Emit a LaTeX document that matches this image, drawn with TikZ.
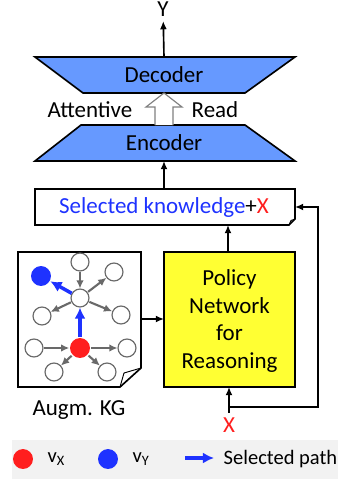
\documentclass[tikz,border=0pt]{standalone}
\usepackage{fontspec}
\setmainfont{Carlito}
\usetikzlibrary{arrows.meta}
\definecolor{trapblue}{RGB}{102,153,255}
\definecolor{polyellow}{RGB}{255,255,51}
\definecolor{selblue}{RGB}{30,50,255}
\definecolor{xred}{RGB}{255,30,30}
\definecolor{edgegray}{RGB}{105,105,105}
\definecolor{legendgray}{RGB}{242,242,242}
\tikzset{
  every node/.style={font=\fontsize{19.6}{23.5}\selectfont},
  kgnode/.style={circle, draw=edgegray, fill=white, line width=1pt, inner sep=0pt, minimum size=15.3pt},
  vxnode/.style={circle, fill=xred, inner sep=0pt, minimum size=17pt},
  vynode/.style={circle, fill=selblue, inner sep=0pt, minimum size=17pt},
  kgedge/.style={-{Latex[length=7pt,width=6.5pt]}, edgegray, line width=1.8pt, shorten <=0.5pt},
  pathedge/.style={-{Latex[length=9.5pt,width=9.5pt]}, selblue, line width=3pt},
  legendtext/.style={font=\fontsize{17.5}{21}\selectfont, anchor=west}
}
\begin{document}
\begin{tikzpicture}[x=0.03cm,y=-0.03cm,>={Latex[length=7pt,width=6pt]},line width=1.4pt]

\useasboundingbox (0,0) rectangle (338,479);

% legend band
\fill[legendgray] (12,440) rectangle (338,479);

% decoder and encoder
\draw[fill=trapblue] (35,57) -- (295,57) -- (245,93) -- (83,93) -- cycle;
\draw[fill=trapblue] (81,125) -- (245,125) -- (295,161) -- (35,161) -- cycle;
\node (dec) at (164,75) {Decoder};
\node (enc) at (164,143) {Encoder};
\coordinate (dectop) at (164,57);
\coordinate (encbot) at (164,161);

\node (y) at (163,9) {Y};
\draw[->] (dectop) -- (y);

% attentive read
\draw[gray, fill=white, line width=1pt] (155,125) -- (155,107) -- (146,107) -- (164,93)
  -- (182,107) -- (173,107) -- (173,125);
\node[anchor=east] (att) at (137,110) {Attentive};
\node[anchor=west] (read) at (187,110) {Read};

% selected knowledge
\draw[fill=white] (35,189) -- (295,189) -- (295,219) -- (289,225) -- (35,225) -- cycle;
\draw[line width=0.8pt] (295,219) -- (291,220.5) -- (289,225);
\node (sel) at (164,207) {\textcolor{selblue}{Selected knowledge}+\textcolor{xred}{X}};
\coordinate (seltop) at (164,189);
\coordinate (selbot) at (228,225);
\coordinate (selright) at (295,207);
\draw[->] (seltop) -- (encbot);

% policy network
\draw[fill=polyellow] (164,252) rectangle (295,387);
\node[align=center] (pol) at (229.5,321) {Policy\\Network\\for\\Reasoning};
\coordinate (poltop) at (228,252);
\coordinate (polbot) at (229,387);
\coordinate (polleft) at (164,319);
\draw[->] (poltop) -- (selbot);

% input X and feedback
\node[text=xred] (x) at (229,425) {X};
\coordinate (split) at (229,407);
\coordinate (back) at (318,407);
\draw[->] (x.north) -- (polbot);
\draw[->] (split) -- (back) |- (selright);

% augmented KG
\draw[fill=white] (18,252) -- (141,252) -- (141,368) -- (120,387) -- (18,387) -- cycle;
\draw[line width=0.8pt] (141,368) -- (124,373) -- (120,387);
\coordinate (kgright) at (141,319);
\draw[->] (kgright) -- (polleft);
\node (kglabel) at (79,410) {Augm. KG};

\node[vynode] (vy) at (41,276) {};
\node[kgnode] (t) at (80,262) {};
\node[kgnode] (ur) at (114,272) {};
\node[kgnode] (c) at (80,298) {};
\node[kgnode] (lm) at (42,316) {};
\node[kgnode] (rm) at (121,315) {};
\node[vxnode] (vx) at (80,348) {};
\node[kgnode] (ll) at (34,348) {};
\node[kgnode] (rl) at (127,348) {};
\node[kgnode] (bl) at (54,372) {};
\node[kgnode] (br) at (107,372) {};

\draw[kgedge] (t) -- (c);
\draw[kgedge] (c) -- (ur);
\draw[kgedge] (c) -- (lm);
\draw[kgedge] (c) -- (rm);
\draw[kgedge] (ll) -- (vx);
\draw[kgedge] (vx) -- (rl);
\draw[kgedge] (vx) -- (bl);
\draw[kgedge] (vx) -- (br);
\draw[pathedge] (vx) -- (c);
\draw[pathedge] (c) -- (vy);

% legend
\node[vxnode] (lx) at (23,459) {};
\node[legendtext] (lxt) at (43,459) {v\textsubscript{X}};
\node[vynode] (ly) at (108,459) {};
\node[legendtext] (lyt) at (128,459) {v\textsubscript{Y}};
\coordinate (lpa) at (185,458);
\coordinate (lpb) at (214,458);
\draw[pathedge] (lpa) -- (lpb);
\node[legendtext] (lpt) at (219,459) {Selected path};

\end{tikzpicture}
\end{document}
